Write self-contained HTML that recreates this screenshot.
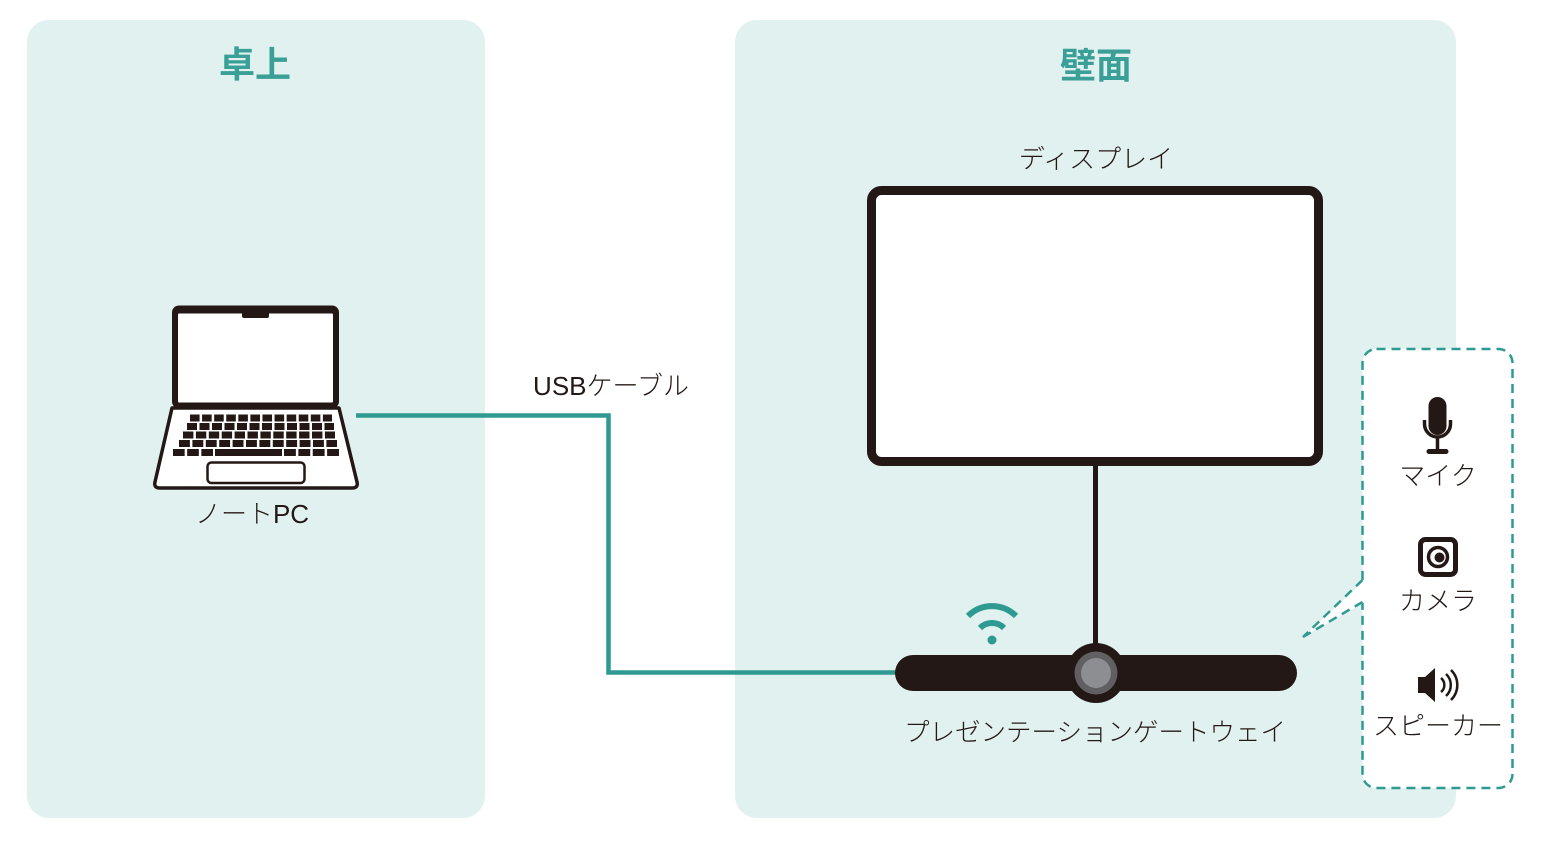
<!DOCTYPE html>
<html>
<head>
<meta charset="utf-8">
<style>
  html,body{margin:0;padding:0;background:#ffffff;}
  svg{display:block;}
  .t{font-family:"Liberation Sans","Noto Sans CJK JP",sans-serif;font-size:26px;fill:#231815;font-weight:300;}
  .h{font-family:"Liberation Sans","Noto Sans CJK JP",sans-serif;font-size:36px;fill:#3a9f97;font-weight:700;}
</style>
</head>
<body>
<svg width="1555" height="854" viewBox="0 0 1555 854" xmlns="http://www.w3.org/2000/svg">
  <!-- panels -->
  <rect x="27" y="20" width="458" height="798" rx="22" fill="#e1f1ef"/>
  <rect x="735" y="20" width="721" height="798" rx="22" fill="#e1f1ef"/>

  <text class="h" x="255" y="77" text-anchor="middle">卓上</text>
  <text class="h" x="1096" y="78" text-anchor="middle">壁面</text>

  <!-- USB cable -->
  <path d="M356 415.5 H608.5 V672.5 H897" fill="none" stroke="#2e9a92" stroke-width="4.5"/>
  <text class="t" x="611" y="395" text-anchor="middle">USBケーブル</text>

  <!-- laptop -->
  <path d="M172 408 L339 408 L357 482 Q358.5 488 352 488 L160 488 Q153.5 488 155 482 Z" fill="#ffffff" stroke="#231815" stroke-width="3.5" stroke-linejoin="round"/>
  <rect x="172" y="305.5" width="167" height="103" rx="7" fill="#231815"/>
  <rect x="178" y="313.5" width="155" height="89" rx="1" fill="#ffffff"/>
  <rect x="242" y="310" width="27" height="8" rx="2" fill="#231815"/>
  <g stroke="#231815" stroke-width="7">
    <line x1="190" y1="418" x2="332" y2="418" stroke-dasharray="9.58 2.5"/>
    <line x1="187" y1="426.5" x2="334" y2="426.5" stroke-dasharray="10 2.5"/>
    <line x1="183" y1="435" x2="335" y2="435" stroke-dasharray="10.4 2.5"/>
    <line x1="179" y1="443.5" x2="337" y2="443.5" stroke-dasharray="10.9 2.5"/>
    <line x1="173" y1="452.5" x2="213" y2="452.5" stroke-dasharray="11.67 2.5"/>
    <line x1="215" y1="452.5" x2="282" y2="452.5"/>
    <line x1="284" y1="452.5" x2="339" y2="452.5" stroke-dasharray="11.87 2.5"/>
  </g>
  <rect x="207.5" y="462.5" width="97" height="20.5" rx="4" fill="#ffffff" stroke="#231815" stroke-width="2.5"/>
  <text class="t" x="252" y="523" text-anchor="middle">ノートPC</text>

  <!-- display -->
  <text class="t" x="1096" y="168" text-anchor="middle">ディスプレイ</text>
  <rect x="871.5" y="190.5" width="447" height="271" rx="10" fill="#ffffff" stroke="#231815" stroke-width="9"/>
  <line x1="1095.5" y1="465" x2="1095.5" y2="650" stroke="#231815" stroke-width="5"/>

  <!-- gateway -->
  <rect x="895" y="655" width="402" height="36" rx="18" fill="#231815"/>
  <circle cx="1096" cy="673" r="30" fill="#231815"/>
  <circle cx="1096" cy="673" r="21.5" fill="#605f61"/>
  <circle cx="1096" cy="673" r="15" fill="#8d8e91"/>
  <text class="t" x="1095" y="741" text-anchor="middle" style="font-size:25.5px">プレゼンテーションゲートウェイ</text>

  <!-- wifi -->
  <g fill="none" stroke="#2e9a92" stroke-width="6">
    <path d="M980 628 A17 17 0 0 1 1004 628"/>
    <path d="M968 616 A34 34 0 0 1 1016 616"/>
  </g>
  <circle cx="992" cy="640" r="4.5" fill="#2e9a92"/>

  <!-- peripherals panel -->
  <rect x="1362.5" y="349" width="150" height="439" rx="14" fill="#ffffff" stroke="#2e9a92" stroke-width="2.5" stroke-dasharray="9 6"/>
  <polygon points="1365,580 1303,637 1365,602" fill="#ffffff"/>
  <g stroke="#2e9a92" stroke-width="2.5" stroke-dasharray="9 6" fill="none">
    <line x1="1362.5" y1="580" x2="1303" y2="637"/>
    <line x1="1362.5" y1="602" x2="1303" y2="637"/>
  </g>

  <!-- mic -->
  <rect x="1428.5" y="397" width="18" height="38" rx="9" fill="#231815"/>
  <path d="M1424.5 420 v4 a13 13 0 0 0 26 0 v-4" fill="none" stroke="#231815" stroke-width="3.5"/>
  <line x1="1437.5" y1="437" x2="1437.5" y2="451" stroke="#231815" stroke-width="3.5"/>
  <rect x="1426.5" y="449" width="22" height="5" rx="2.5" fill="#231815"/>
  <text class="t" x="1438" y="485" text-anchor="middle">マイク</text>

  <!-- camera -->
  <rect x="1420.5" y="539.5" width="35" height="35" rx="5" fill="none" stroke="#231815" stroke-width="5"/>
  <circle cx="1438" cy="557" r="9.5" fill="none" stroke="#231815" stroke-width="3.5"/>
  <circle cx="1439.5" cy="557.5" r="5" fill="#231815"/>
  <text class="t" x="1438" y="610" text-anchor="middle">カメラ</text>

  <!-- speaker -->
  <path d="M1418 677 h7 l10 -9 v34 l-10 -9 h-7 z" fill="#231815"/>
  <g fill="none" stroke="#231815" stroke-width="2.5">
    <path d="M1441 678 A9 9 0 0 1 1441 692"/>
    <path d="M1446 674 A15 15 0 0 1 1446 696"/>
    <path d="M1451 670 A21 21 0 0 1 1451 700"/>
  </g>
  <text class="t" x="1438" y="735" text-anchor="middle">スピーカー</text>
</svg>
</body>
</html>
